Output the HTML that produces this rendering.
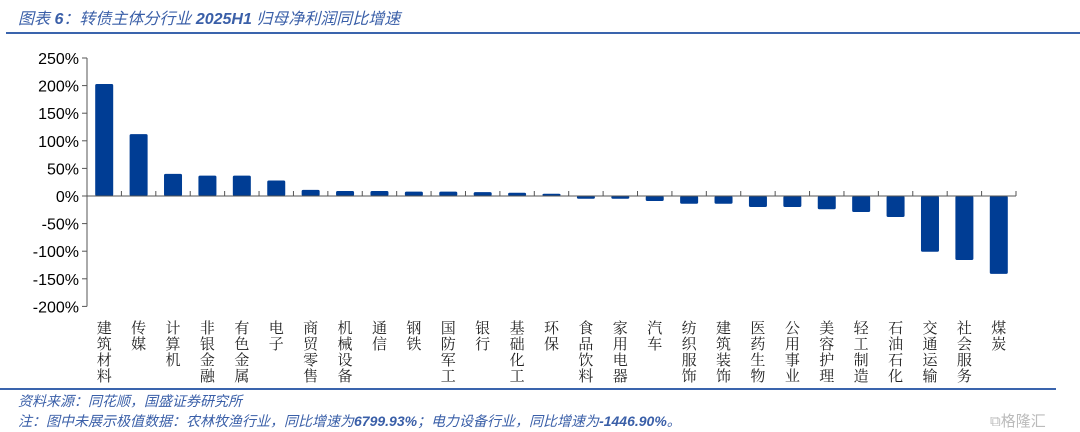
<!DOCTYPE html>
<html><head><meta charset="utf-8">
<style>
body{margin:0;background:#fff;}
#wrap{position:relative;width:1080px;height:432px;overflow:hidden;font-family:"Liberation Sans","Noto Sans CJK SC",sans-serif;}
.t{position:absolute;color:#3a5fa8;font-style:italic;white-space:nowrap;}
</style></head><body>
<div id="wrap">
<div class="t" style="left:18px;top:5px;font-size:16px;">图表 <b>6</b>：转债主体分行业 <b>2025H1</b> 归母净利润同比增速</div>
<div style="position:absolute;left:6px;top:32px;width:1074px;height:2px;background:#3a64ad;"></div>
<svg id="chart" width="1080" height="432" style="position:absolute;left:0;top:0"></svg>
<div style="position:absolute;left:0;top:388px;width:1056px;height:2px;background:#3a64ad;"></div>
<div class="t" style="left:18px;top:391px;font-size:14px;">资料来源：同花顺，国盛证券研究所</div>
<div class="t" style="left:18px;top:411px;font-size:14px;">注：图中未展示极值数据：农林牧渔行业，同比增速为<b>6799.93%</b>；电力设备行业，同比增速为<b>-1446.90%</b>。</div>
<div style="position:absolute;left:990px;top:410px;color:#bbb;font-size:15px;font-family:'Noto Sans CJK SC',sans-serif;">⧉格隆汇</div>
</div>
<script>
const categories=["建筑材料","传媒","计算机","非银金融","有色金属","电子","商贸零售","机械设备","通信","钢铁","国防军工","银行","基础化工","环保","食品饮料","家用电器","汽车","纺织服饰","建筑装饰","医药生物","公用事业","美容护理","轻工制造","石油石化","交通运输","社会服务","煤炭"];
const values=[203,112,40,37,37,28,11,9,9,8,8,7,6,4,-5,-5,-9,-14,-14,-20,-20,-24,-29,-38,-101,-116,-141];
const tickValues=[250,200,150,100,50,0,-50,-100,-150,-200];
const tickLabels=["250%","200%","150%","100%","50%","0%","-50%","-100%","-150%","-200%"];
const NS="http://www.w3.org/2000/svg";
const svg=document.getElementById('chart');
const x0=87,x1=1016,yZero=196,pxPer=0.552;
const bandW=(x1-x0)/categories.length;
const y=v=>yZero-v*pxPer;
const xc=i=>x0+bandW*(i+0.5);
function mk(t,a){const e=document.createElementNS(NS,t);for(const k in a)e.setAttribute(k,a[k]);svg.appendChild(e);return e;}
let ax=mk('line',{x1:x0,x2:x0,y1:y(250),y2:y(-200),stroke:'#555','stroke-width':1});


tickValues.forEach((v,i)=>{
  let tk=mk('line',{x1:x0-5,x2:x0,y1:y(v),y2:y(v),stroke:'#555'});
  
  
  let tx=mk('text',{x:x0-8,y:y(v)+6,'text-anchor':'end','font-size':16,fill:'#000','font-family':'Liberation Sans, sans-serif'});
  tx.textContent=tickLabels[i];
  
  
});
values.forEach((v,i)=>{
  const bw=18,top=Math.min(y(v),yZero),h=Math.abs(y(v)-yZero);
  let r=mk('rect',{x:xc(i)-bw/2,y:top,width:bw,height:Math.max(h,1.5),fill:'#003d94',rx:1.5});
  
  
});
let xa=mk('line',{x1:x0,x2:x1,y1:yZero,y2:yZero,stroke:'#555','stroke-width':1});


for(let i=1;i<=categories.length;i++){
  let tk=mk('line',{x1:x0+bandW*i,x2:x0+bandW*i,y1:yZero-5,y2:yZero,stroke:'#555'});
  
  
}
categories.forEach((c,i)=>{
  [...c].forEach((ch,j)=>{
    let t=mk('text',{x:xc(i),y:333+j*16,'text-anchor':'middle','font-size':15,fill:'#222','font-family':'Noto Serif CJK SC, serif'});
    t.textContent=ch;
    
    
  });
});
</script>
</body></html>
